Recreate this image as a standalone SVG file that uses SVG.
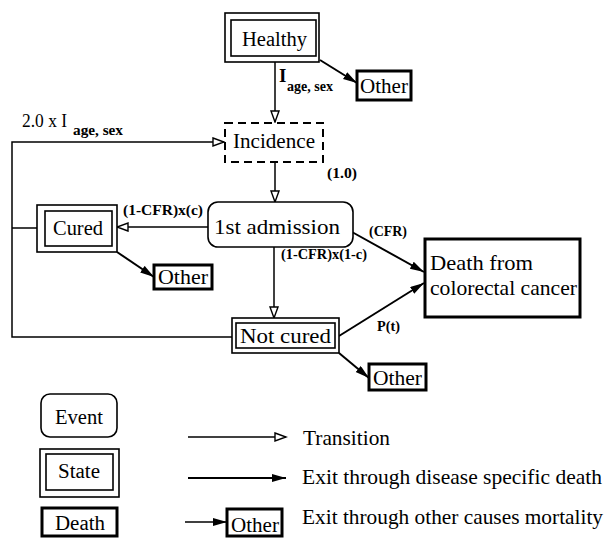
<svg xmlns="http://www.w3.org/2000/svg" width="605" height="538" viewBox="0 0 605 538" font-family="'Liberation Serif', 'Times New Roman', Times, 'DejaVu Serif', serif">
<style>
text{font-family:'Liberation Serif','Times New Roman',Times,'DejaVu Serif',serif;fill:#000}
.n{font-size:20px}
.nb{font-size:21px}
.lb{font-size:14px;font-weight:bold}
.box{fill:#fff;stroke:#000;stroke-width:1.6}
.dbox{fill:#fff;stroke:#000;stroke-width:3}
.dash{fill:#fff;stroke:#000;stroke-width:2;stroke-dasharray:8 5}
.tr{fill:none;stroke:#000;stroke-width:1.5}
.ex{fill:none;stroke:#000;stroke-width:2}
</style>
<defs>
<marker id="open" markerUnits="userSpaceOnUse" markerWidth="14" markerHeight="12" refX="12" refY="5" orient="auto">
<path d="M1,1 L12,5 L1,9 z" fill="#fff" stroke="#000" stroke-width="1.4"/>
</marker>
<marker id="fill" markerUnits="userSpaceOnUse" markerWidth="15" markerHeight="10" refX="14" refY="4" orient="auto">
<path d="M0,0 L14,4 L0,8 z" fill="#000"/>
</marker>
</defs>

<g id="connectors">
<line class="tr" x1="275" y1="62" x2="275" y2="122" marker-end="url(#open)"/>
<line class="ex" x1="320" y1="60" x2="357" y2="83" marker-end="url(#fill)"/>
<polyline class="tr" points="232,337 12,337 12,142 224,142" marker-end="url(#open)"/>
<line class="tr" x1="12" y1="228" x2="37" y2="228"/>
<line class="tr" x1="275" y1="162" x2="275" y2="202" marker-end="url(#open)"/>
<line class="tr" x1="208" y1="227" x2="117" y2="227" marker-end="url(#open)"/>
<line class="ex" x1="117" y1="252" x2="154" y2="277" marker-end="url(#fill)"/>
<line class="tr" x1="274" y1="247" x2="274" y2="318" marker-end="url(#open)"/>
<line class="ex" x1="352" y1="232" x2="424" y2="272" marker-end="url(#fill)"/>
<line class="ex" x1="339" y1="336" x2="424" y2="283" marker-end="url(#fill)"/>
<line class="ex" x1="339" y1="353" x2="369" y2="378" marker-end="url(#fill)"/>
<text x="22" y="127" style="font-size:18px" textLength="45" lengthAdjust="spacingAndGlyphs">2.0 x I</text>
<text x="73" y="135" class="lb" textLength="50" lengthAdjust="spacingAndGlyphs">age, sex</text>
<text x="279" y="82" style="font-size:19px;font-weight:bold">I</text>
<text x="287" y="91" class="lb" textLength="46" lengthAdjust="spacingAndGlyphs">age, sex</text>
<text x="327" y="178" class="lb" textLength="30" lengthAdjust="spacingAndGlyphs">(1.0)</text>
<text x="123" y="215" class="lb" textLength="80" lengthAdjust="spacingAndGlyphs">(1-CFR)x(c)</text>
<text x="281" y="259" class="lb" textLength="86" lengthAdjust="spacingAndGlyphs">(1-CFR)x(1-c)</text>
<text x="369" y="236" class="lb" textLength="38" lengthAdjust="spacingAndGlyphs">(CFR)</text>
<text x="377" y="331" class="lb" textLength="23" lengthAdjust="spacingAndGlyphs">P(t)</text>
</g>

<g id="healthy">
<rect class="box" x="225" y="13" width="94" height="49"/>
<rect class="box" x="231" y="20" width="85" height="36"/>
<text class="n" x="242" y="46" textLength="65" lengthAdjust="spacingAndGlyphs">Healthy</text>
</g>

<g id="other1">
<rect class="dbox" x="357" y="71" width="54" height="29"/>
<text class="n" x="360" y="93" textLength="48" lengthAdjust="spacingAndGlyphs">Other</text>
</g>

<g id="incidence">
<rect class="dash" x="225" y="123" width="98" height="39"/>
<text class="n" x="233" y="148" textLength="82" lengthAdjust="spacingAndGlyphs">Incidence</text>
</g>

<g id="admission">
<rect class="box" x="208" y="202" width="145" height="45" rx="10"/>
<text class="nb" x="214" y="234" textLength="126" lengthAdjust="spacingAndGlyphs">1st admission</text>
</g>

<g id="cured">
<rect class="box" x="37" y="205" width="80" height="47"/>
<rect class="box" x="45" y="211" width="67" height="35"/>
<text class="n" x="53" y="235" textLength="50" lengthAdjust="spacingAndGlyphs">Cured</text>
</g>

<g id="other2">
<rect class="dbox" x="154" y="265" width="58" height="24"/>
<text class="n" x="158" y="284" textLength="50" lengthAdjust="spacingAndGlyphs">Other</text>
</g>

<g id="notcured">
<rect class="box" x="232" y="318" width="107" height="35"/>
<rect class="box" x="236" y="323" width="99" height="25"/>
<text class="nb" x="240" y="343" textLength="91" lengthAdjust="spacingAndGlyphs">Not cured</text>
</g>

<g id="death">
<rect class="dbox" x="425" y="239" width="155" height="78"/>
<text class="nb" x="430" y="270" textLength="103" lengthAdjust="spacingAndGlyphs">Death from</text>
<text class="nb" x="430" y="295" textLength="147" lengthAdjust="spacingAndGlyphs">colorectal cancer</text>
</g>

<g id="other3">
<rect class="dbox" x="369" y="364" width="57" height="26"/>
<text class="n" x="373" y="385" textLength="49" lengthAdjust="spacingAndGlyphs">Other</text>
</g>

<g id="legend">
<rect class="box" x="41" y="394" width="76" height="43" rx="9"/>
<text class="n" x="55" y="424" textLength="48" lengthAdjust="spacingAndGlyphs">Event</text>
<rect class="box" x="40" y="449" width="79" height="48"/>
<rect class="box" x="46" y="454" width="67" height="36"/>
<text class="n" x="58" y="478" textLength="42" lengthAdjust="spacingAndGlyphs">State</text>
<rect class="dbox" x="42" y="508" width="75" height="28"/>
<text class="n" x="55" y="530" textLength="50" lengthAdjust="spacingAndGlyphs">Death</text>
<line class="tr" x1="188" y1="437" x2="286" y2="437" marker-end="url(#open)"/>
<line class="ex" x1="188" y1="478" x2="286" y2="478" marker-end="url(#fill)"/>
<line class="tr" x1="185" y1="522" x2="227" y2="522" marker-end="url(#fill)"/>
<rect class="dbox" x="227" y="509" width="55" height="27"/>
<text class="n" x="231" y="532" textLength="48" lengthAdjust="spacingAndGlyphs">Other</text>
<text x="303" y="445" style="font-size:21px" textLength="87" lengthAdjust="spacingAndGlyphs">Transition</text>
<text x="302" y="484" style="font-size:21px" textLength="300" lengthAdjust="spacingAndGlyphs">Exit through disease specific death</text>
<text x="302" y="524" style="font-size:21px" textLength="301" lengthAdjust="spacingAndGlyphs">Exit through other causes mortality</text>
</g>
</svg>
